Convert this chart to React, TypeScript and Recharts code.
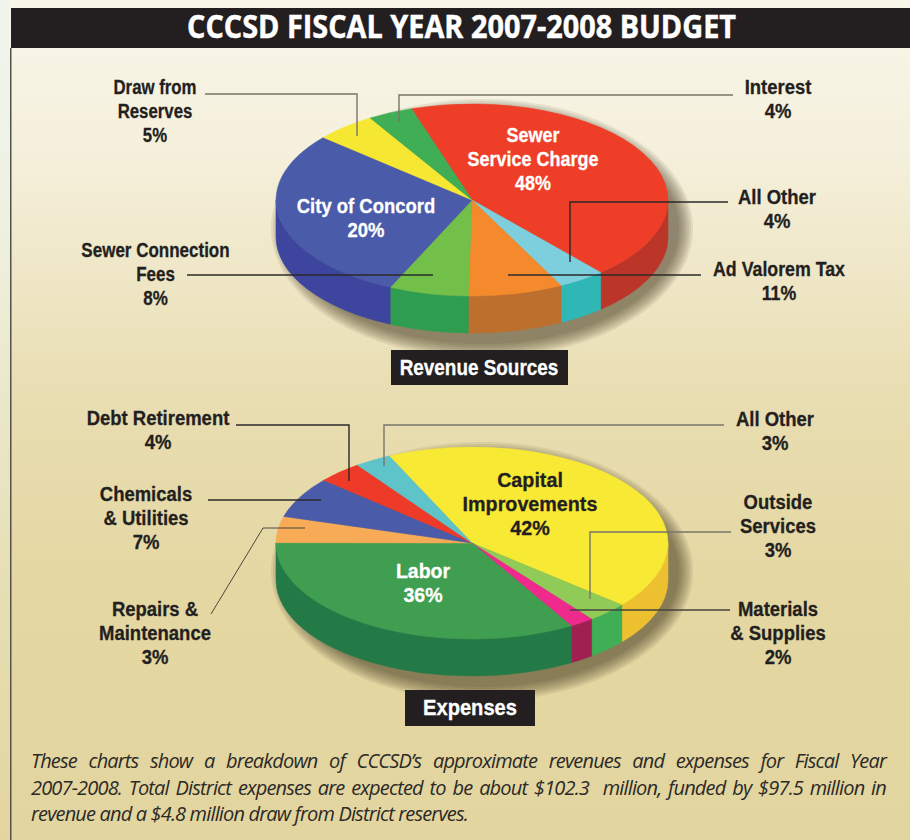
import { PieChart, Pie } from 'recharts';

// Slice shares are measured from the drawn wedges; the artwork does not follow
// its printed percentages exactly, so the printed ones are kept as separate labels.
const revenueNames = ['Sewer Service Charge', 'All Other', 'Ad Valorem Tax', 'Sewer Connection Fees', 'City of Concord', 'Draw from Reserves', 'Interest'];
const revenueShares = [43.6, 3.9, 7.8, 6.55, 29.45, 5, 3.7];
const revenuePrinted = ['48%', '4%', '11%', '8%', '20%', '5%', '4%'];
const revenueFaces = ['#ef3e27', '#7dcfdd', '#f58a2c', '#72bf4a', '#4a5ba9', '#f6e733', '#3fae55'];
const revenueWalls = ['#bc3529', '#2fb7b6', '#bd6f2e', '#2f9d50', '#3d459e', '#c9b52a', '#2f8f45'];

const expenseNames = ['Capital Improvements', 'Outside Services', 'Materials & Supplies', 'Labor', 'Repairs & Maintenance', 'Chemicals & Utilities', 'Debt Retirement', 'All Other'];
const expenseShares = [43.1, 3.4, 2, 33.5, 4.4, 6.9, 3.7, 3];
const expensePrinted = ['42%', '3%', '2%', '36%', '3%', '7%', '4%', '3%'];
const expenseFaces = ['#f8e935', '#8fcb56', '#ee2a8c', '#3f9e4f', '#f7ab56', '#4a5ba9', '#ed3a29', '#5fc4c9'];
const expenseWalls = ['#ecc02e', '#3fae54', '#a02052', '#247a47', '#c98a40', '#3d459e', '#b9302a', '#3aa5a8'];

const DARK = '#231f20';
const WHITE = '#ffffff';
const RADIUS = 196;
const TILT = 0.49;
const DEPTH = 37;
const RAD = Math.PI / 180;
const SHADOW_STEPS = [1, 3, 5, 7, 9, 11, 13, 15];

const revenueData = revenueNames.map((name, i) => ({ name, value: revenueShares[i], face: revenueFaces[i], wall: revenueWalls[i] }));
const expenseData = expenseNames.map((name, i) => ({ name, value: expenseShares[i], face: expenseFaces[i], wall: expenseWalls[i] }));

// tilted slab: recharts gives the angles, we flatten the circle and add the front wall
function Slab(props: any) {
  const { cx, cy, outerRadius: r, startAngle, endAngle } = props;
  const face = props.face ?? props.payload?.face;
  const wall = props.wall ?? props.payload?.wall;
  const ry = r * TILT;
  const pt = (a: number, dy = 0) => `${cx + r * Math.cos(a * RAD)} ${cy - ry * Math.sin(a * RAD) + dy}`;
  const large = startAngle - endAngle > 180 ? 1 : 0;
  const top = `M ${cx} ${cy} L ${pt(startAngle)} A ${r} ${ry} 0 ${large} 1 ${pt(endAngle)} Z`;
  const walls: string[] = [];
  for (const [lo, hi] of [[-180, 0], [-540, -360]]) {
    const a = Math.min(startAngle, hi);
    const b = Math.max(endAngle, lo);
    if (a > b) {
      walls.push(`M ${pt(a)} A ${r} ${ry} 0 0 1 ${pt(b)} L ${pt(b, DEPTH)} A ${r} ${ry} 0 0 0 ${pt(a, DEPTH)} Z`);
    }
  }
  return (
    <g>
      {walls.map((d) => <path key={d} d={d} fill={wall} stroke={wall} strokeWidth={0.5} />)}
      <path d={top} fill={face} stroke={face} strokeWidth={0.5} />
    </g>
  );
}

// soft shadow behind a slab, stacked see-through rings pushed down and right
function SlabShadow({ cx, cy }: any) {
  return (
    <g fill="#3a3218" fillOpacity={0.085}>
      {SHADOW_STEPS.map((k) => (
        <ellipse key={k} cx={cx + 10} cy={cy + DEPTH / 2 + 10} rx={RADIUS + k} ry={RADIUS * TILT + DEPTH / 2 + k} />
      ))}
    </g>
  );
}

function Label({ x, y, lines, sx = 0.88, color = DARK, size = 21, step = 24 }: any) {
  return (
    <g transform={`translate(${x} ${y}) scale(${sx} 1)`} fontFamily="Liberation Sans" fontWeight="bold" fontSize={size} fill={color} stroke={color} strokeWidth={0.3} textAnchor="middle">
      {lines.map((t: string, i: number) => <text key={i} y={i * step}>{t}</text>)}
    </g>
  );
}

function Leader({ points, color = '#2b2a28', width = 1.4 }: any) {
  return <polyline points={points} fill="none" stroke={color} strokeWidth={width} />;
}

const GREY = '#77756a';
const footerStyle: any = {
  position: 'absolute', left: 31, width: 855, fontFamily: 'Open Sans', fontStyle: 'italic', fontSize: 20,
  letterSpacing: -0.84, color: '#2b2a28', lineHeight: '26px', whiteSpace: 'nowrap',
};

export default function App() {
  return (
    <div style={{ position: 'absolute', left: 0, top: 0, width: 910, height: 840, overflow: 'hidden', background: 'linear-gradient(180deg, #f9f6ea 0%, #f5f0dc 18%, #e9deb3 46%, #e4d7a2 70%, #e3d59f 100%)' }}>
      <div style={{ position: 'absolute', left: 0, top: 0, width: 10, height: 840, background: 'linear-gradient(180deg, rgba(236,245,236,0.8), rgba(255,255,255,0))' }} />
      <svg width={910} height={840} style={{ position: 'absolute', left: 0, top: 0 }}>
        <SlabShadow cx={472} cy={200} />
        <SlabShadow cx={472} cy={543} />
      </svg>
      <div style={{ position: 'absolute', left: 0, top: 0, width: 910, height: 840 }}>
        <PieChart width={910} height={840} margin={{ top: 0, right: 0, bottom: 0, left: 0 }}>
          <Pie data={revenueData} dataKey="value" nameKey="name" cx={472} cy={200} innerRadius={0} outerRadius={RADIUS}
            startAngle={108} endAngle={-252} stroke="none" shape={Slab} label={false} labelLine={false} isAnimationActive={false} />
          <Pie data={expenseData} dataKey="value" nameKey="name" cx={472} cy={543} innerRadius={0} outerRadius={RADIUS}
            startAngle={115} endAngle={-245} stroke="none" shape={Slab} label={false} labelLine={false} isAnimationActive={false} />
        </PieChart>
      </div>
      <svg width={910} height={840} style={{ position: 'absolute', left: 0, top: 0 }}>
        <rect x={10} y={48} width={1.5} height={792} fill="#55534c" />
        <rect x={11} y={8} width={899} height={40} fill={DARK} />
        <text x={461.5} y={38} textAnchor="middle" textLength={549} lengthAdjust="spacingAndGlyphs" fontFamily="Open Sans" fontWeight="bold" fontSize={32} fill={WHITE} stroke={WHITE} strokeWidth={0.5}>
          CCCSD FISCAL YEAR 2007-2008 BUDGET
        </text>

        <Leader points="205,94 357,94 357,136" color={GREY} />
        <Leader points="733,95 399,95 399,122" color={GREY} />
        <Leader points="728,202 570,202 570,262" />
        <Leader points="701,275 508,275" />
        <Leader points="187,275 433,275" />
        <Leader points="236,425 349,425 349,481" />
        <Leader points="724,425 384,425 384,466" color={GREY} />
        <Leader points="208,500 321,500" />
        <Leader points="211,614 263,528 305,528" width={1} color="#4a483f" />
        <Leader points="731,532 590,532 590,599" color={GREY} />
        <Leader points="730,610 570,610" color="#45433c" />

        <Label x={155} y={94} sx={0.8} lines={['Draw from', 'Reserves', revenuePrinted[5]]} />
        <Label x={778} y={94} lines={['Interest', revenuePrinted[6]]} />
        <Label x={533} y={142} sx={0.856} color={WHITE} lines={['Sewer', 'Service Charge', revenuePrinted[0]]} />
        <Label x={366} y={213} color={WHITE} lines={['City of Concord', revenuePrinted[4]]} />
        <Label x={777} y={204} lines={['All Other', revenuePrinted[1]]} />
        <Label x={779} y={276} sx={0.846} lines={['Ad Valorem Tax', revenuePrinted[2]]} />
        <Label x={155.5} y={257} sx={0.81} lines={['Sewer Connection', 'Fees', revenuePrinted[3]]} />

        <rect x={391} y={350} width={177} height={35} fill={DARK} />
        <Label x={479} y={375} sx={0.86} size={22} color={WHITE} lines={['Revenue Sources']} />

        <Label x={158} y={425} lines={['Debt Retirement', expensePrinted[6]]} />
        <Label x={146} y={501} lines={['Chemicals', '& Utilities', expensePrinted[5]]} />
        <Label x={155} y={616} lines={['Repairs &', 'Maintenance', expensePrinted[4]]} />
        <Label x={775} y={426} lines={['All Other', expensePrinted[7]]} />
        <Label x={530} y={487} sx={0.94} lines={['Capital', 'Improvements', expensePrinted[0]]} />
        <Label x={423} y={578} sx={0.93} color={WHITE} lines={['Labor', expensePrinted[3]]} />
        <Label x={778} y={509} lines={['Outside', 'Services', expensePrinted[1]]} />
        <Label x={778} y={616} lines={['Materials', '& Supplies', expensePrinted[2]]} />

        <rect x={405} y={690} width={130} height={36} fill={DARK} />
        <Label x={470} y={715} sx={0.915} size={22} color={WHITE} lines={['Expenses']} />
      </svg>
      <div style={{ ...footerStyle, top: 748, whiteSpace: 'normal', textAlign: 'justify', textAlignLast: 'justify' }}>
        These charts show a breakdown of CCCSD’s approximate revenues and expenses for Fiscal Year
      </div>
      <div style={{ ...footerStyle, top: 775, whiteSpace: 'normal', textAlign: 'justify', textAlignLast: 'justify' }}>
        2007-2008. Total District expenses are expected to be about $102.3{'\u00a0'} million, funded by $97.5 million in
      </div>
      <div style={{ ...footerStyle, top: 801 }}>
        revenue and a $4.8 million draw from District reserves.
      </div>
    </div>
  );
}
